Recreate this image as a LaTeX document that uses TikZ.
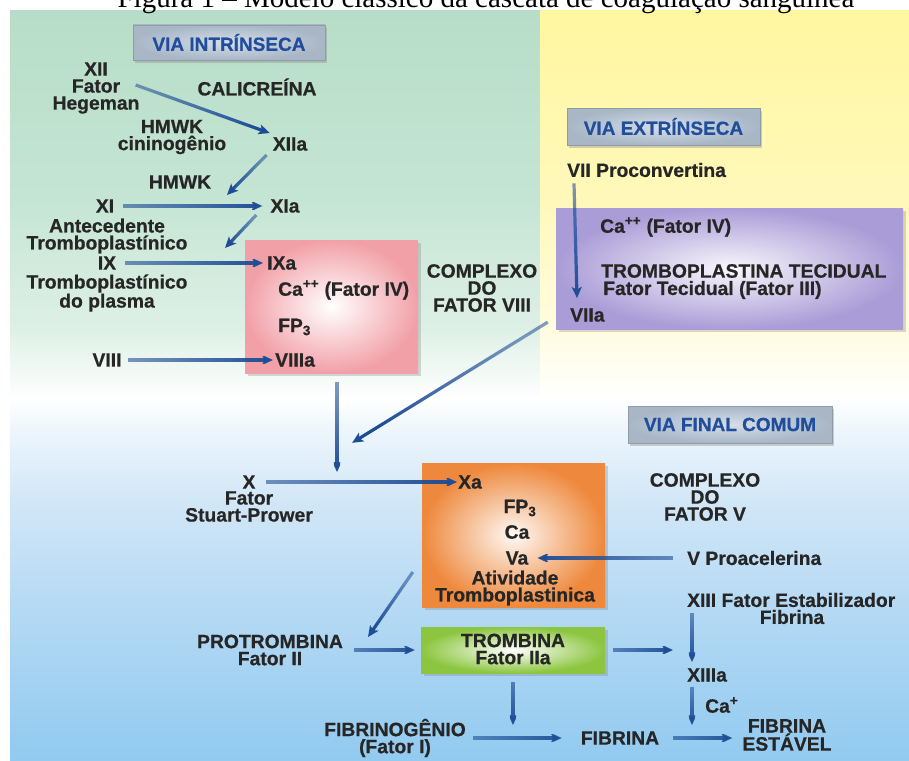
\documentclass[tikz,border=0pt]{standalone}
\usepackage{fontspec}
\setmainfont{Liberation Sans}[BoldFeatures={FakeBold=0.6}]
\newfontfamily\capfont{Liberation Serif}
\usetikzlibrary{arrows.meta,shadows,calc,fadings}

\definecolor{gr0}{RGB}{183,221,200}
\definecolor{gr1}{RGB}{197,229,212}
\definecolor{gr2}{RGB}{222,240,230}
\definecolor{ye0}{RGB}{255,247,160}
\definecolor{ye1}{RGB}{255,248,186}
\definecolor{ye2}{RGB}{255,252,224}
\definecolor{bl0}{RGB}{238,246,252}
\definecolor{bl1}{RGB}{210,231,247}
\definecolor{bl2}{RGB}{183,218,244}
\definecolor{bl3}{RGB}{146,202,240}
\definecolor{arrc}{RGB}{30,77,150}
\definecolor{txt}{RGB}{38,38,38}
\definecolor{hdtxt}{RGB}{32,78,156}
\definecolor{hdin}{RGB}{214,222,232}
\definecolor{hdout}{RGB}{168,182,198}
\definecolor{pinkc}{RGB}{242,160,168}
\definecolor{purpc}{RGB}{170,156,215}
\definecolor{orc}{RGB}{238,136,60}
\definecolor{grc}{RGB}{140,198,64}

\pgfdeclareverticalshading{lsh}{100bp}{color(0bp)=(bl3); color(25bp)=(bl3); color(35.7bp)=(bl2); color(42.4bp)=(bl1); color(47.1bp)=(bl0); color(49.1bp)=(white); color(53.8bp)=(gr2); color(62.5bp)=(gr1); color(75bp)=(gr0); color(100bp)=(gr0)}
\pgfdeclareverticalshading{rsh}{100bp}{color(0bp)=(bl3); color(25bp)=(bl3); color(35.7bp)=(bl2); color(42.4bp)=(bl1); color(47.1bp)=(bl0); color(49.1bp)=(white); color(53.8bp)=(ye2); color(62.5bp)=(ye1); color(75bp)=(ye0); color(100bp)=(ye0)}

\tikzfading[name=tailfade, left color=transparent!45, right color=transparent!0]

\tikzset{
  lbl/.style={font=\bfseries\fontsize{19.3}{17}\selectfont, text=txt, inner sep=0pt, align=center},
  hdr/.style={font=\bfseries\fontsize{19}{19}\selectfont, text=hdtxt, inner color=hdin, outer color=hdout,
              draw=hdout!85!black, line width=0.6pt, inner sep=0pt,
              drop shadow={opacity=0.35, shadow xshift=2pt, shadow yshift=-3pt}},
  cbox/.style={inner sep=0pt, drop shadow={opacity=0.3, shadow xshift=3pt, shadow yshift=-3pt}},
  arr/.style={draw=arrc, line width=3.2pt, -{Stealth[length=11pt,width=10pt,inset=2.5pt]}},
  fd/.style={path fading=tailfade, fading angle=#1},
}

\begin{document}
\begin{tikzpicture}[x=1pt,y=-1pt]
\useasboundingbox (0,0) rectangle (909,760);
\fill[white] (0,0) rectangle (909,760);
\shade[shading=lsh] (10,11) rectangle (541,760);
\shade[shading=rsh] (540,11) rectangle (909,760);

% coloured boxes
\node[cbox, inner color=white, outer color=pinkc, minimum width=173, minimum height=133] (pink) at (331.5,306.5) {};
\node[cbox, inner color=white!92!purpc, outer color=purpc, minimum width=347, minimum height=121] (purple) at (729.5,268.5) {};
\node[cbox, inner color=white!95!orc, outer color=orc, minimum width=183, minimum height=144] (orange) at (513.5,535) {};
\node[cbox, inner color=white, outer color=grc, minimum width=184, minimum height=46] (green) at (513,650) {};

% headers
\node[hdr, minimum width=192, minimum height=35] (hI) at (229,42.5) {VIA INTRÍNSECA};
\node[hdr, minimum width=193, minimum height=37] (hE) at (663.5,126.5) {VIA EXTRÍNSECA};
\node[hdr, minimum width=204, minimum height=37] (hF) at (730,424.5) {VIA FINAL COMUM};

% intrinsic
\node[lbl] (xii) at (96,88) {XII\\Fator\\Hegeman};
\node[lbl] (cal) at (257,87) {CALICREÍNA};
\node[lbl] (hmwk1) at (172,137) {HMWK\\cininogênio};
\node[lbl] (xiia) at (290,144) {XIIa};
\node[lbl] (hmwk2) at (180,182) {HMWK};
\node[lbl] (xi) at (105,206) {XI};
\node[lbl] (xia) at (285,206) {XIa};
\node[lbl] (ante) at (107,236) {Antecedente\\Tromboplastínico};
\node[lbl] (ix) at (107,263) {IX};
\node[lbl] (ixp) at (107,293) {Tromboplastínico\\do plasma};
\node[lbl, anchor=west] (ixa) at (267,263) {IXa};
\node[lbl, anchor=west] (ca1) at (278,290) {Ca\textsuperscript{++} (Fator IV)};
\node[lbl, anchor=west] (fp1) at (278,327) {FP\textsubscript{3}};
\node[lbl, anchor=west] (viiia) at (275,360) {VIIIa};
\node[lbl] (viii) at (107,360) {VIII};
\node[lbl] (cx8) at (482,288) {COMPLEXO\\DO\\FATOR VIII};

% extrinsic
\node[lbl, anchor=west] (vii) at (567,170) {VII Proconvertina};
\node[lbl, anchor=west] (viia) at (570,315) {VIIa};
\node[lbl, anchor=west] (ca2) at (600,227) {Ca\textsuperscript{++} (Fator IV)};
\node[lbl, anchor=west] (tt) at (601,271) {TROMBOPLASTINA TECIDUAL};
\node[lbl, anchor=west] (ft) at (603,290) {Fator Tecidual (Fator III)};

% common
\node[lbl] (x) at (249,482) {X};
\node[lbl] (xf) at (249,506.5) {Fator\\Stuart-Prower};
\node[lbl, anchor=west] (xa) at (458,482) {Xa};
\node[lbl] (fp2) at (520,508) {FP\textsubscript{3}};
\node[lbl] (ca3) at (517,532) {Ca};
\node[lbl] (va) at (517,558) {Va};
\node[lbl] (ativ) at (515,588) {Atividade\\Tromboplastinica};
\node[lbl, anchor=west] (vpro) at (687,558) {V Proacelerina};
\node[lbl] (cx5) at (705,497) {COMPLEXO\\DO\\FATOR V};
\node[lbl, anchor=west] (xiii) at (687,600) {XIII Fator Estabilizador};
\node[lbl] (xiiif) at (792,617) {Fibrina};
\node[lbl, anchor=west] (xiiia) at (687,675) {XIIIa};
\node[lbl, anchor=west] (cap2) at (705,705) {Ca\textsuperscript{+}};
\node[lbl] (trb) at (513,649) {TROMBINA\\Fator IIa};
\node[lbl] (pro) at (270,650) {PROTROMBINA\\Fator II};
\node[lbl] (fbg) at (395,738) {FIBRINOGÊNIO\\(Fator I)};
\node[lbl] (fib) at (620,738) {FIBRINA};
\node[lbl, font=\bfseries\fontsize{19.3}{12}\selectfont] (fibe) at (787,735) {FIBRINA\\ESTÁVEL};

% free ends
\coordinate (j1) at (227,195);
\coordinate (j2) at (225,248);
\coordinate (j3) at (337,472);
\coordinate (j4) at (352,443);
\coordinate (j5) at (368,637);
\coordinate (j6) at (673,650);
\coordinate (j7) at (692,725);
\coordinate (j8) at (513,725);

% arrows
\draw[arr, fd=-19.6] ([shift={(-4,-3)}]xii.east) -- ([shift={(-3,-4)}]xiia.north west);
\draw[arr, fd=-135] ([shift={(-6,4)}]xiia.south west) -- (j1);
\draw[arr, fd=0, shorten <=9pt, shorten >=8pt] (xi.east) -- (xia.west);
\draw[arr, fd=-134] ([shift={(-14,2)}]xia.south west) -- (j2);
\draw[arr, fd=0, shorten <=9pt, shorten >=4pt] (ix.east) -- (ixa.west);
\draw[arr, fd=0, shorten <=6pt, shorten >=2pt] (viii.east) -- (viiia.west);
\draw[arr, fd=-90] ([shift={(5.5,9)}]pink.south) -- (j3);
\draw[arr, fd=-148.3] ([shift={(-8,-7)}]purple.south west) -- (j4);
\draw[arr, fd=0, shorten <=10pt, shorten >=1pt] (x.east) -- (xa.west);
\draw[arr, fd=-90] ([shift={(7,6)}]vii.south west) -- ([shift={(7,-10)}]viia.north west);
\draw[arr, fd=180, shorten <=14pt, shorten >=9pt] (vpro.west) -- (va.east);
\draw[arr, fd=-124.7] ([shift={(-9,37)}]orange.west) -- (j5);
\draw[arr, fd=0, shorten <=11pt, shorten >=6pt] (pro.east) -- (green.west);
\draw[arr, fd=0, shorten <=8pt] (green.east) -- (j6);
\draw[arr, fd=-90] ([shift={(5,6)}]xiii.south west) -- ([shift={(5,-6)}]xiiia.north west);
\draw[arr, fd=-90] ([shift={(5,5)}]xiiia.south west) -- (j7);
\draw[arr, fd=-90, shorten <=9pt] (green.south) -- (j8);
\draw[arr, fd=0, shorten <=7pt, shorten >=19pt] (fbg.east) -- (fib.west);
\draw[arr, fd=0, shorten <=14pt, shorten >=10pt] (fib.east) -- (fib.east -| fibe.west);

% caption
\node[font=\capfont\fontsize{29}{29}\selectfont, anchor=base, inner sep=0pt, text=black] (caption) at (486,7.5) {Figura 1 – Modelo clássico da cascata de coagulação sanguínea};
\end{tikzpicture}
\end{document}
